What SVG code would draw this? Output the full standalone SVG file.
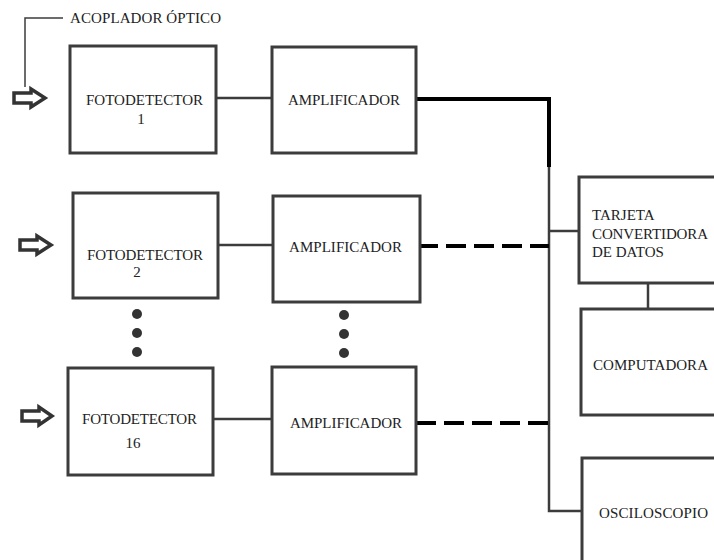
<svg xmlns="http://www.w3.org/2000/svg" width="714" height="560" viewBox="0 0 714 560">
<style>
.box{fill:#fff;stroke:#3c3c3c;stroke-width:3}
.t{font-family:"Liberation Serif","Times New Roman","DejaVu Serif",serif;font-size:15px;fill:#222}
.thin{stroke:#3c3c3c;stroke-width:2.5;fill:none}
.thick{stroke:#000;stroke-width:4;fill:none}
.dash{stroke:#000;stroke-width:4;fill:none;stroke-dasharray:20 8}
.arr{fill:#fff;stroke:#333;stroke-width:3.5;stroke-linejoin:miter}
.dot{fill:#333}
</style>
<rect width="714" height="560" fill="#fff"/>
<g id="connectors">
  <polyline class="thin" points="63,18 25,18 25,87" style="stroke-width:1.5"/>
  <line class="thin" x1="216" y1="98" x2="272" y2="98"/>
  <line class="thin" x1="218" y1="245" x2="273" y2="245"/>
  <line class="thin" x1="213" y1="419" x2="272" y2="419"/>
  <polyline class="thick" points="416,99 549,99 549,167"/>
  <polyline class="thin" points="549,167 549,511 582,511"/>
  <line class="thin" x1="549" y1="231" x2="579" y2="231"/>
  <line class="dash" x1="418" y1="246" x2="549" y2="246"/>
  <line class="dash" x1="416" y1="423" x2="549" y2="423"/>
  <line class="thin" x1="648" y1="283" x2="648" y2="309"/>
</g>
<g id="acoplador">
  <text class="t" x="70" y="23" textLength="151">ACOPLADOR ÓPTICO</text>
</g>
<g id="arrow1"><polygon class="arr" points="14,93 31,93 31,89 45,98 31,107 31,103 14,103"/></g>
<g id="arrow2"><polygon class="arr" points="20,240 37,240 37,236 51,245 37,254 37,250 20,250"/></g>
<g id="arrow16"><polygon class="arr" points="22,411 39,411 39,407 52,416 39,425 39,421 22,421"/></g>
<g id="fotodetector1">
  <rect class="box" x="70" y="46" width="146" height="107"/>
  <text class="t" x="86" y="105" textLength="117">FOTODETECTOR</text>
  <text class="t" x="141" y="124" text-anchor="middle">1</text>
</g>
<g id="amplificador1">
  <rect class="box" x="272" y="47" width="144" height="106"/>
  <text class="t" x="288" y="105" textLength="112">AMPLIFICADOR</text>
</g>
<g id="fotodetector2">
  <rect class="box" x="73" y="193" width="145" height="105"/>
  <text class="t" x="87" y="260" textLength="116">FOTODETECTOR</text>
  <text class="t" x="137" y="277" text-anchor="middle">2</text>
</g>
<g id="amplificador2">
  <rect class="box" x="273" y="196" width="147" height="106"/>
  <text class="t" x="289" y="252" textLength="113">AMPLIFICADOR</text>
</g>
<g id="dots">
  <circle class="dot" cx="137" cy="314" r="5"/>
  <circle class="dot" cx="137" cy="333" r="5"/>
  <circle class="dot" cx="137" cy="352" r="5"/>
  <circle class="dot" cx="344" cy="315" r="5"/>
  <circle class="dot" cx="344" cy="334" r="5"/>
  <circle class="dot" cx="344" cy="353" r="5"/>
</g>
<g id="fotodetector16">
  <rect class="box" x="68" y="368" width="145" height="107"/>
  <text class="t" x="82" y="424" textLength="115">FOTODETECTOR</text>
  <text class="t" x="133" y="448" text-anchor="middle">16</text>
</g>
<g id="amplificador16">
  <rect class="box" x="272" y="367" width="144" height="107"/>
  <text class="t" x="290" y="428" textLength="112">AMPLIFICADOR</text>
</g>
<g id="tarjeta">
  <rect class="box" x="579" y="177" width="160" height="106"/>
  <text class="t" x="592" y="220">TARJETA</text>
  <text class="t" x="592" y="239" textLength="116">CONVERTIDORA</text>
  <text class="t" x="592" y="257">DE DATOS</text>
</g>
<g id="computadora">
  <rect class="box" x="581" y="309" width="160" height="106"/>
  <text class="t" x="593" y="370" textLength="115">COMPUTADORA</text>
</g>
<g id="osciloscopio">
  <rect class="box" x="582" y="458" width="160" height="120"/>
  <text class="t" x="599" y="518" textLength="109">OSCILOSCOPIO</text>
</g>
</svg>
